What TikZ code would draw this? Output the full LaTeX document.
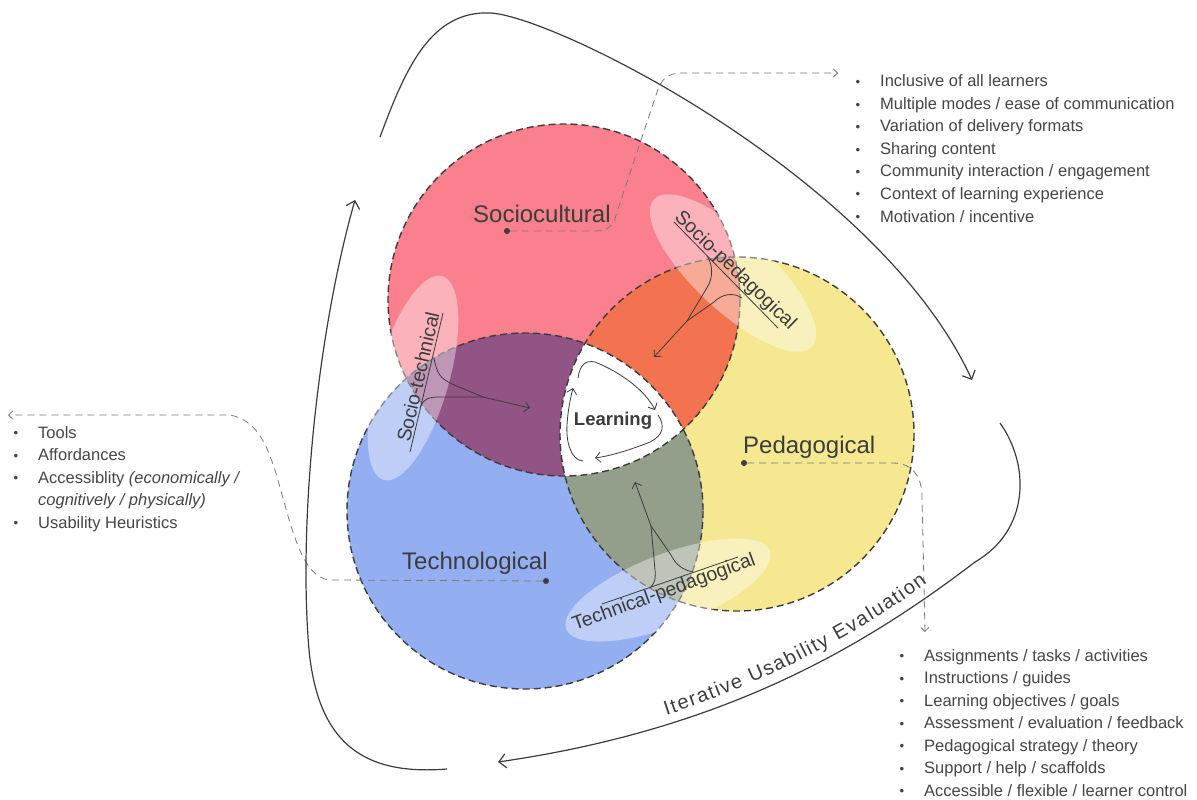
\documentclass[tikz,border=0pt]{standalone}
\usepackage{fontspec}
\setmainfont{Liberation Sans}
\usetikzlibrary{arrows.meta,decorations.text}

\definecolor{ink}{HTML}{3C3C3C}
\definecolor{listgray}{HTML}{454545}
\definecolor{linkgray}{HTML}{7A7A7A}
\definecolor{socred}{HTML}{F9808C}
\definecolor{pedyel}{HTML}{F6E891}
\definecolor{techblu}{HTML}{94AEF2}
\definecolor{sporange}{HTML}{F3724F}
\definecolor{stpurple}{HTML}{925385}
\definecolor{tpgreen}{HTML}{939F8A}

\newcommand{\bul}{\makebox[24.5pt][l]{\raisebox{0.5pt}{\scalebox{0.8}{\textbullet}}}}

\tikzset{
  area/.style={draw=ink, line width=1.4pt, dash pattern=on 7pt off 4pt},
  haze/.style={fill=white, fill opacity=0.4},
  biglabel/.style={font=\fontsize{24}{24}\selectfont, text=ink, inner sep=0pt, anchor=base west},
  joinlabel/.style={font=\fontsize{19.5}{20}\selectfont, text=ink, inner sep=0pt},
  bracket/.style={draw=ink, line width=0.8pt},
  pointer/.style={draw=ink, line width=0.8pt, -{Straight Barb[length=5pt,width=10pt]}},
  cyclearrow/.style={draw=ink, line width=1.2pt, -{Straight Barb[length=7pt,width=14pt]}},
  link/.style={draw=linkgray, line width=0.8pt, dash pattern=on 7pt off 5pt, -{Straight Barb[length=4pt,width=8pt]}},
  dotnode/.style={circle, fill=ink, inner sep=0pt, minimum size=6pt},
  listbox/.style={font=\fontsize{16.5}{22.5}\selectfont, text=listgray, inner sep=0pt, anchor=base west},
}

\begin{document}
\begin{tikzpicture}[x=1pt, y=-1pt]
\useasboundingbox (0,0) rectangle (1197,800);
\coordinate (soc) at (564,300);
\coordinate (ped) at (737,434);
\coordinate (tec) at (525,511);

% circles and overlaps
\fill[socred] (soc) circle[radius=176];
\fill[pedyel] (ped) circle[radius=177];
\fill[techblu] (tec) circle[radius=178];
\begin{scope}
  \clip (soc) circle[radius=176];
  \fill[sporange] (ped) circle[radius=177];
  \fill[stpurple] (tec) circle[radius=178];
\end{scope}
\begin{scope}
  \clip (ped) circle[radius=177];
  \fill[tpgreen] (tec) circle[radius=178];
\end{scope}
\begin{scope}
  \clip (soc) circle[radius=176];
  \clip (ped) circle[radius=177];
  \fill[white] (tec) circle[radius=178];
\end{scope}
\draw[area] (soc) circle[radius=176];
\draw[area] (ped) circle[radius=177];
\draw[area] (tec) circle[radius=178];

\fill[haze, rotate around={74:(413,378)}] (413,378) ellipse[x radius=106, y radius=36];
\fill[haze, rotate around={-43:(733,273)}] (733,273) ellipse[x radius=108, y radius=38];
\fill[haze, rotate around={21:(668,590)}] (668,590) ellipse[x radius=109, y radius=36];

% main labels
\node[biglabel] (soclabel) at (473,222) {Sociocultural};
\node[biglabel] (pedlabel) at (743,453) {Pedagogical};
\node[biglabel] (teclabel) at (402,569) {Technological};
\node[dotnode] (socdot) at (507,231) {};
\node[dotnode] (peddot) at (744,463) {};
\node[dotnode] (tecdot) at (546,581) {};

\node[font=\bfseries\fontsize{18.5}{19}\selectfont, text=ink, inner sep=0pt, anchor=base] (learn) at (613,425) {Learning};
\draw[pointer] (578,378) .. controls (580,365) and (585,360) .. (595,362) .. controls (620,372) and (645,390) .. (655,410);
\draw[pointer] (658,415) .. controls (665,425) and (664,435) .. (650,442) .. controls (630,450) and (610,456) .. (595,458);
\draw[pointer] (583,461) .. controls (570,460) and (566,440) .. (567,425) .. controls (568,410) and (570,400) .. (573,388);

% overlap labels
\node[joinlabel, rotate=77] (stlabel) at (418,377) {Socio-technical};
\coordinate (stjoin) at (483,397);
\coordinate (sttip) at (530,408);
\draw[bracket] (410,452) -- (443,313);
\draw[bracket] (434,358) .. controls (437,374) and (440,378) .. (452,384) -- (stjoin);
\draw[bracket] (420,408) .. controls (423,399) and (428,397) .. (440,397) -- (stjoin);
\draw[pointer] (stjoin) -- (sttip);

\node[joinlabel, rotate=-44] (splabel) at (735,271) {Socio-pedagogical};
\coordinate (spjoin) at (687,321);
\coordinate (sptip) at (654,357);
\draw[bracket] (674,222) -- (778,328);
\draw[bracket] (707,256) .. controls (713,265) and (713,277) .. (708,286) -- (spjoin);
\draw[bracket] (742,298) .. controls (733,292) and (722,294) .. (714,302) -- (spjoin);
\draw[pointer] (spjoin) -- (sptip);

\node[joinlabel, rotate=20] (tplabel) at (664,593) {Technical-pedagogical};
\coordinate (tpjoin) at (651,526);
\coordinate (tptip) at (635,482);
\draw[bracket] (602,604) -- (738,557);
\draw[bracket] (650,588) .. controls (655,583) and (656,578) .. (655,570) -- (tpjoin);
\draw[bracket] (693,572) .. controls (683,570) and (676,565) .. (671,555) -- (tpjoin);
\draw[pointer] (tpjoin) -- (tptip);

% lists
\node[listbox] (soclist) at (855.5,87) {\begin{tabular}[t]{@{}l@{}}
\bul Inclusive of all learners\\
\bul Multiple modes / ease of communication\\
\bul Variation of delivery formats\\
\bul Sharing content\\
\bul Community interaction / engagement\\
\bul Context of learning experience\\
\bul Motivation / incentive
\end{tabular}};
\node[listbox] (pedlist) at (899.5,661) {\begin{tabular}[t]{@{}l@{}}
\bul Assignments / tasks / activities\\
\bul Instructions / guides\\
\bul Learning objectives / goals\\
\bul Assessment / evaluation / feedback\\
\bul Pedagogical strategy / theory\\
\bul Support / help / scaffolds\\
\bul Accessible / flexible / learner control
\end{tabular}};
\node[listbox] (teclist) at (13.5,438) {\begin{tabular}[t]{@{}l@{}}
\bul Tools\\
\bul Affordances\\
\bul Accessiblity \textit{(economically /}\\
\hspace*{24.5pt}\textit{cognitively / physically)}\\
\bul Usability Heuristics
\end{tabular}};

\coordinate (socin) at (838,73);
\coordinate (pedin) at (925,632);
\coordinate (tecin) at (8,415);
\draw[link] (socdot) -- (595,231) .. controls (610,231) and (614,224) .. (617,212) -- (657,92) .. controls (661,80) and (667,73) .. (682,73) -- (socin);
\draw[link] (peddot) -- (892,463) .. controls (912,463) and (921,475) .. (922,495) -- (pedin);
\draw[link] (tecdot) -- (330,580) .. controls (300,578) and (290,520) .. (275,470) .. controls (265,440) and (255,420) .. (230,415) -- (tecin);

% evaluation cycle
\coordinate (topstart) at (380,137);
\coordinate (topend) at (972,380);
\coordinate (rightstart) at (1000,423);
\coordinate (rightend) at (498,762);
\coordinate (leftstart) at (447,769);
\coordinate (leftend) at (355,200);
\draw[cyclearrow] (topstart) .. controls (405,70) and (430,10) .. (491,13) .. controls (560,18) and (880,180) .. (topend);
\draw[cyclearrow] (rightstart) .. controls (1030,465) and (1030,530) .. (975,562) .. controls (860,650) and (720,730) .. (rightend);
\draw[cyclearrow] (leftstart) .. controls (360,776) and (318,740) .. (309,650) .. controls (298,520) and (318,330) .. (leftend);
\path[decorate, decoration={text along path, text align=fit to path, raise=5pt,
  text={|\fontsize{20}{20}\selectfont\color{ink}|Iterative Usability Evaluation}}]
  (668,720) .. controls (760,690) and (860,640) .. (930,587);
\end{tikzpicture}
\end{document}
